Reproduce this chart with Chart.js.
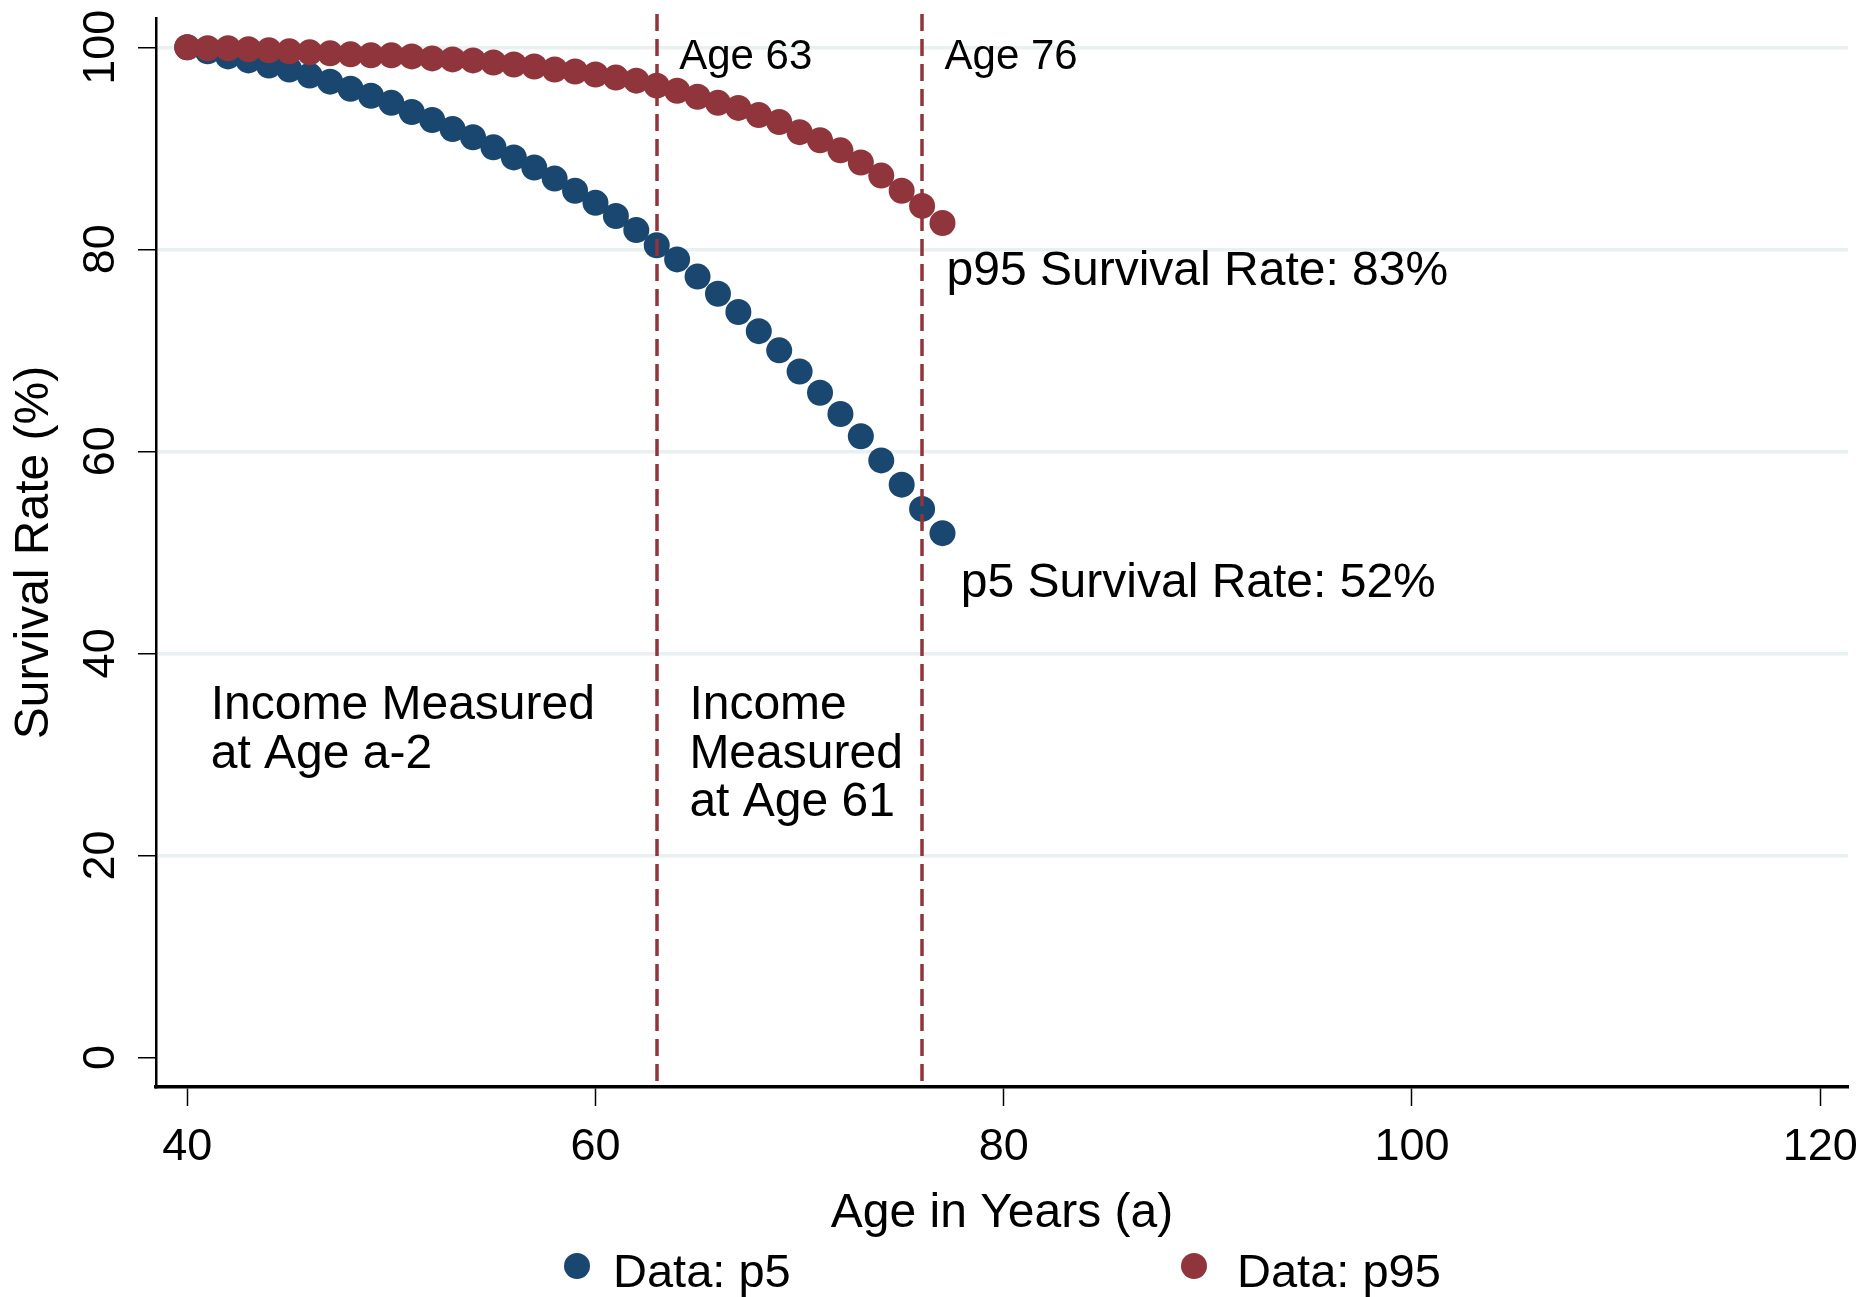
<!DOCTYPE html>
<html>
<head>
<meta charset="utf-8">
<script src="https://cdn.jsdelivr.net/npm/chart.js@4.4.1/dist/chart.umd.min.js"></script>
<style>
  html, body { margin: 0; padding: 0; background: #fff; }
  canvas { display: block; }
</style>
</head>
<body>
<canvas id="chart" width="1869" height="1297"></canvas>
<script>
// survival rate by age
const ages = [40, 41, 42, 43, 44, 45, 46, 47, 48, 49, 50, 51, 52, 53, 54, 55, 56, 57, 58,
  59, 60, 61, 62, 63, 64, 65, 66, 67, 68, 69, 70, 71, 72, 73, 74, 75, 76, 77]
const p5 = [100, 99.6, 99.1, 98.7, 98.2, 97.8, 97.2, 96.6, 95.9, 95.2, 94.5, 93.6, 92.8,
  91.9, 91.1, 90.1, 89.1, 88.1, 87.0, 85.8, 84.6, 83.3, 81.9, 80.4, 79.0, 77.3, 75.6,
  73.8, 71.9, 70.0, 67.9, 65.8, 63.7, 61.5, 59.1, 56.7, 54.3, 51.9]
const p95 = [100, 99.9, 99.9, 99.8, 99.7, 99.6, 99.5, 99.4, 99.3, 99.2, 99.2, 99.1, 98.9,
  98.8, 98.7, 98.5, 98.3, 98.1, 97.8, 97.6, 97.3, 97.0, 96.7, 96.2, 95.7, 95.1, 94.5,
  94.0, 93.3, 92.6, 91.6, 90.8, 89.8, 88.6, 87.3, 85.8, 84.3, 82.6]

const xTicks = [40, 60, 80, 100, 120]
const yTicks = [0, 20, 40, 60, 80, 100]
const cutoffAges = [63, 76]

const BLUE = "#1a476f"
const RED = "#90353b"
const GRID = "#e8f0f2"
const FONT = "'Liberation Sans', Arial, Helvetica, sans-serif"

// annotation texts, placed in data units
const notes = [
  { text: ["Age 63"], x: 64.1, y: 98.95, size: 42 },
  { text: ["Age 76"], x: 77.1, y: 98.95, size: 42 },
  { text: ["p95 Survival Rate: 83%"], x: 77.2, y: 77.8, size: 48 },
  { text: ["p5 Survival Rate: 52%"], x: 77.9, y: 46.9, size: 48 },
  { text: ["Income Measured", "at Age a-2"], x: 41.15, y: 34.8, size: 48 },
  { text: ["Income", "Measured", "at Age 61"], x: 64.6, y: 34.8, size: 48 }
]

const toPoints = vals => ages.map((a, i) => ({ x: a, y: vals[i] }))

const annotations = {
  id: "annotations",
  afterDatasetsDraw(chart) {
    const { ctx, chartArea, scales } = chart
    ctx.save()
    ctx.strokeStyle = RED
    ctx.lineWidth = 3.5
    ctx.setLineDash([17, 8])
    cutoffAges.forEach(a => {
      const px = Math.round(scales.x.getPixelForValue(a))
      ctx.beginPath()
      ctx.moveTo(px, chartArea.top - 4)
      ctx.lineTo(px, chartArea.bottom)
      ctx.stroke()
    })
    ctx.setLineDash([])
    ctx.fillStyle = "#000"
    ctx.textAlign = "left"
    ctx.textBaseline = "middle"
    notes.forEach(n => {
      ctx.font = n.size + "px " + FONT
      const px = scales.x.getPixelForValue(n.x)
      const py = scales.y.getPixelForValue(n.y)
      n.text.forEach((line, i) => ctx.fillText(line, px, py + i * 48.5))
    })
    ctx.restore()
  }
}

const bottomLegend = {
  id: "bottomLegend",
  afterDraw(chart) {
    const { ctx } = chart
    const spots = [{ dot: 577, text: 613 }, { dot: 1194, text: 1237 }]
    ctx.save()
    ctx.font = "47px " + FONT
    ctx.textAlign = "left"
    ctx.textBaseline = "middle"
    chart.data.datasets.forEach((ds, i) => {
      ctx.fillStyle = ds.backgroundColor
      ctx.beginPath()
      ctx.arc(spots[i].dot, 1266, 13, 0, Math.PI * 2)
      ctx.fill()
      ctx.fillStyle = "#000"
      ctx.fillText(ds.label, spots[i].text, 1274)
    })
    ctx.restore()
  }
}

new Chart(document.getElementById("chart"), {
  type: "scatter",
  data: {
    datasets: [
      {
        label: "Data: p5",
        data: toPoints(p5),
        backgroundColor: BLUE,
        borderColor: BLUE,
        pointRadius: 13,
        pointBorderWidth: 0,
        order: 2
      },
      {
        label: "Data: p95",
        data: toPoints(p95),
        backgroundColor: RED,
        borderColor: RED,
        pointRadius: 13,
        pointBorderWidth: 0,
        order: 1
      }
    ]
  },
  options: {
    responsive: false,
    animation: false,
    devicePixelRatio: 1,
    layout: { padding: { top: 18, right: 21, bottom: 58, left: 0 } },
    plugins: {
      legend: { display: false },
      tooltip: { enabled: false }
    },
    scales: {
      x: {
        type: "linear",
        min: 38.47,
        max: 121.36,
        afterBuildTicks: s => { s.ticks = xTicks.map(v => ({ value: v })) },
        afterFit: s => { s.height = 152; s.paddingLeft = 0; s.paddingRight = 0 },
        border: { color: "#000", width: 3.5 },
        grid: {
          drawOnChartArea: false,
          tickLength: 19,
          tickColor: "#000",
          tickWidth: 1.5
        },
        ticks: {
          padding: 15,
          color: "#000",
          font: { family: FONT, size: 45 }
        },
        title: {
          display: true,
          text: "Age in Years (a)",
          color: "#000",
          padding: { top: 0, bottom: -4 },
          font: { family: FONT, size: 48 }
        }
      },
      y: {
        type: "linear",
        min: -2.93,
        max: 102.9,
        afterBuildTicks: s => { s.ticks = yTicks.map(v => ({ value: v })) },
        afterFit: s => { s.width = 156; s.paddingTop = 0; s.paddingBottom = 0 },
        border: { color: "#000", width: 2.5 },
        grid: {
          color: c => (c.tick && c.tick.value === 0 ? "rgba(0,0,0,0)" : GRID),
          lineWidth: 3.5,
          tickLength: 18,
          tickColor: "#000",
          tickWidth: 1.5
        },
        ticks: {
          minRotation: 90,
          maxRotation: 90,
          crossAlign: "center",
          padding: -1,
          color: "#000",
          font: { family: FONT, size: 45 }
        },
        title: {
          display: true,
          text: "Survival Rate (%)",
          color: "#000",
          padding: { top: 6, bottom: 0 },
          font: { family: FONT, size: 48 }
        }
      }
    }
  },
  plugins: [annotations, bottomLegend]
})
</script>
</body>
</html>
